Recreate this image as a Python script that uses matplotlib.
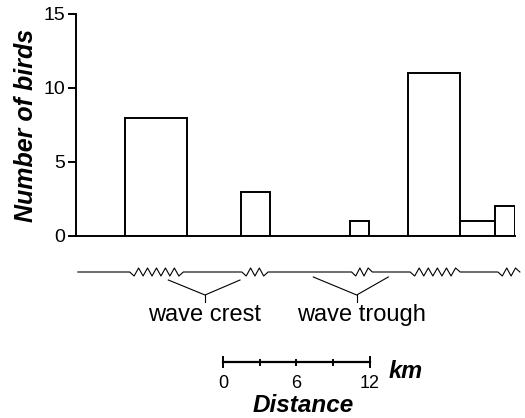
import numpy as np
import matplotlib
matplotlib.use("Agg")
import matplotlib.pyplot as plt

plt.rcParams['font.family'] = ['Liberation Sans', 'DejaVu Sans']

# transect segments (km along the axis) and bird counts
seg_start = [4.0, 13.5, 22.5, 27.25, 31.5, 34.4]
seg_end = [9.1, 15.9, 24.0, 31.5, 34.4, 36.0]
birds = [8, 3, 1, 11, 1, 2]
y_ticks = [0, 5, 10, 15]

# rough (wavy) stretches of the sea-surface sketch, km
rough_start = [4.4, 13.6, 22.6, 27.4, 34.6]
rough_end = [8.8, 15.75, 24.3, 31.5, 36.4]

scale_ticks = [0, 3, 6, 9, 12]
scale_labels = ["0", "", "6", "", "12"]

W, H = 525, 418
fig = plt.figure(figsize=(W / 100, H / 100), dpi=100)

ax = fig.add_axes([76 / W, 1 - 236 / H, (515 - 76) / W, (236 - 14) / H])
widths = np.array(seg_end) - np.array(seg_start)
ax.bar(seg_start, birds, width=widths, align="edge", color="white",
       edgecolor="black", linewidth=1.4)
ax.set_xlim(0, 36)
ax.set_ylim(0, 15)
ax.set_yticks(y_ticks)
ax.set_xticks([])
for s in ["top", "right"]:
    ax.spines[s].set_visible(False)
for s in ["left", "bottom"]:
    ax.spines[s].set_linewidth(1.4)
ax.tick_params(axis="y", direction="out", length=6, width=1.4, labelsize=14, pad=2)
ax.set_ylabel("Number of birds", fontsize=18, fontweight="bold", fontstyle="italic", labelpad=4)

# lower sketch: x in km (same as bars), y in pixels from the top
sk = fig.add_axes([76 / W, 0, (515 - 76) / W, 1])
sk.set_xlim(0, 36)
sk.set_ylim(H, 0)
sk.axis("off")
sk.patch.set_visible(False)

base = 272
amp = 4
period = 0.75
xs = [0.15]
ys = [base]
for a, b in zip(rough_start, rough_end):
    n = max(2, int(round((b - a) / period * 2)))
    zx = np.linspace(a, b, n + 1)
    zy = [base + (amp if i % 2 else -amp) if 0 < i < n else base for i in range(n + 1)]
    xs.extend(zx)
    ys.extend(zy)
xs.append(36.4)
ys.append(base)
sk.plot(xs, ys, color="black", lw=0.8, clip_on=False)

# brackets
for left, vert, right in [(7.57, 10.58, 13.45), (19.46, 23.02, 25.61)]:
    top = 280 if left < 10 else 277
    sk.plot([left, vert, right], [top, 295, top], color="black", lw=0.8, clip_on=False)
    sk.plot([vert, vert], [295, 302], color="black", lw=0.8, clip_on=False)
sk.text(10.58, 315, "wave crest", ha="center", va="center", fontsize=17)
sk.text(23.45, 315, "wave trough", ha="center", va="center", fontsize=17)

# scale bar
x0 = 12.08
sk.plot([x0, x0 + 12], [362, 362], color="black", lw=1.6, clip_on=False)
for t, lab in zip(scale_ticks, scale_labels):
    half = 5 if lab in ("0", "12") else 2.5
    sk.plot([x0 + t, x0 + t], [362 - half, 362 + half], color="black", lw=1.4)
    if lab:
        sk.text(x0 + t, 383, lab, ha="center", va="center", fontsize=13)
sk.text(25.67, 371, "km", ha="left", va="center", fontsize=17,
        fontweight="bold", fontstyle="italic")
sk.text(18.6, 406, "Distance", ha="center", va="center", fontsize=17.5,
        fontweight="bold", fontstyle="italic")

fig.savefig("out.png", dpi=100)
